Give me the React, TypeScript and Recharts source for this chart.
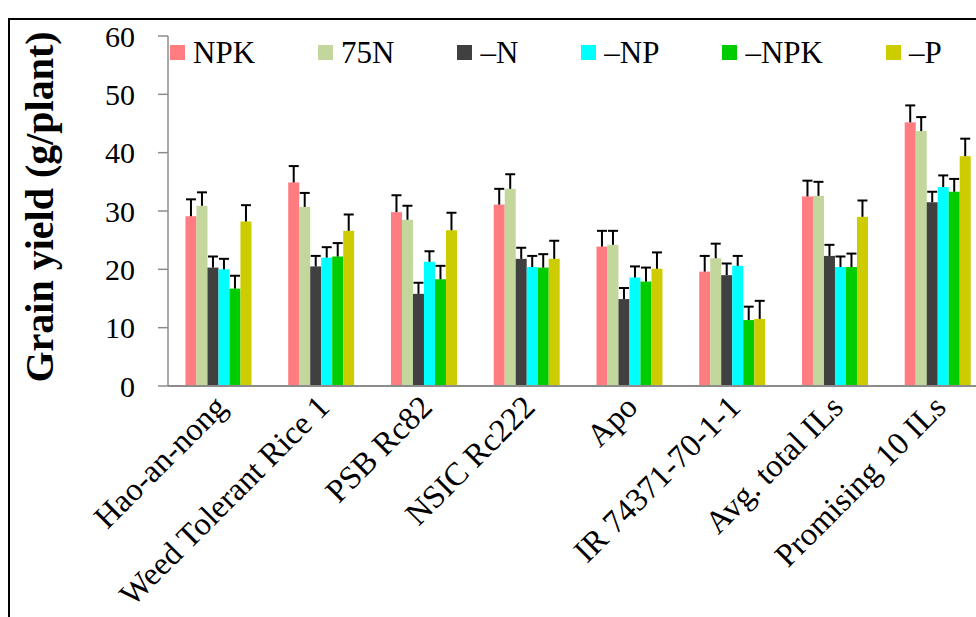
import React from 'react';
import { BarChart, Bar, XAxis, YAxis, Legend } from 'recharts';

const categories = [
  'Hao-an-nong',
  'Weed Tolerant Rice 1',
  'PSB Rc82',
  'NSIC Rc222',
  'Apo',
  'IR 74371-70-1-1',
  'Avg. total ILs',
  'Promising 10 ILs',
];

const npk = [29.1, 34.9, 29.8, 31.1, 23.9, 19.6, 32.5, 45.2];
const n75 = [30.9, 30.7, 28.5, 33.8, 24.2, 21.9, 32.6, 43.7];
const minusN = [20.3, 20.5, 15.8, 21.8, 14.9, 19.0, 22.3, 31.5];
const minusNP = [20.0, 22.0, 21.3, 20.4, 18.6, 20.6, 20.4, 34.1];
const minusNPK = [16.7, 22.2, 18.3, 20.3, 17.9, 11.3, 20.4, 33.3];
const minusP = [28.2, 26.6, 26.7, 21.8, 20.1, 11.5, 29.0, 39.4];

// upper error (standard error) per bar
const npkErr = [2.9, 2.8, 2.9, 2.7, 2.7, 2.7, 2.7, 2.9];
const n75Err = [2.3, 2.4, 2.4, 2.5, 2.4, 2.5, 2.4, 2.4];
const minusNErr = [1.9, 1.8, 1.9, 1.9, 1.9, 2.0, 1.9, 1.8];
const minusNPErr = [1.8, 1.8, 1.8, 1.9, 1.9, 1.7, 1.8, 2.0];
const minusNPKErr = [2.2, 2.3, 2.3, 2.3, 2.4, 2.3, 2.3, 2.2];
const minusPErr = [2.8, 2.8, 3.0, 3.1, 2.8, 3.1, 2.8, 3.0];

const yTicks = [0, 10, 20, 30, 40, 50, 60];

const series = [
  { key: 'npk', name: 'NPK', color: '#FF7C80', values: npk, errs: npkErr },
  { key: 'n75', name: '75N', color: '#C3D69B', values: n75, errs: n75Err },
  { key: 'minusN', name: '\u2013N', color: '#404040', values: minusN, errs: minusNErr },
  { key: 'minusNP', name: '\u2013NP', color: '#00FFFF', values: minusNP, errs: minusNPErr },
  { key: 'minusNPK', name: '\u2013NPK', color: '#00CC00', values: minusNPK, errs: minusNPKErr },
  { key: 'minusP', name: '\u2013P', color: '#CCCC00', values: minusP, errs: minusPErr },
];

const data = categories.map((name, i) => {
  const row: Record<string, any> = { name };
  series.forEach((s) => {
    row[s.key] = s.values[i];
    row[s.key + 'Err'] = s.errs[i];
  });
  return row;
});

const FONT = 'Liberation Serif';
const AXIS_GREY = '#8c8c8c';

// bar with an upper-only error whisker (T cap)
const barWithError = (key: string) => (props: any) => {
  const { x, y, width, height, fill, payload } = props;
  const v = payload[key];
  const pxPerUnit = v ? height / v : 0;
  const e = payload[key + 'Err'] * pxPerUnit;
  const cx = x + width / 2;
  return (
    <g>
      <rect x={x} y={y} width={width} height={height} fill={fill} />
      <line x1={cx} y1={y} x2={cx} y2={y - e} stroke="#000" strokeWidth={2} />
      <line x1={cx - 5} y1={y - e} x2={cx + 5} y2={y - e} stroke="#000" strokeWidth={2} />
    </g>
  );
};

const XTick = ({ x, y, payload }: any) => {
  const ax = x + 9;
  const ay = y + 23;
  return (
    <text
      x={ax}
      y={ay}
      textAnchor="end"
      transform={`rotate(-45, ${ax}, ${ay})`}
      fontFamily={FONT}
      fontSize={32.5}
      fill="#000"
    >
      {payload.value}
    </text>
  );
};

const YTitle = () => (
  <text
    x={53}
    y={207}
    textAnchor="middle"
    transform="rotate(-90, 53, 207)"
    fontFamily={FONT}
    fontWeight="bold"
    fontSize={40}
    fill="#000"
  >
    Grain yield (g/plant)
  </text>
);

const LegendContent = () => (
  <div style={{ display: 'flex', alignItems: 'center', whiteSpace: 'nowrap', fontFamily: FONT, fontSize: 31, lineHeight: '31px', color: '#000' }}>
    {series.map((s) => (
      <div key={s.key} style={{ display: 'flex', alignItems: 'center', marginRight: 63 }}>
        <span style={{ display: 'inline-block', width: 15, height: 15, background: s.color, marginRight: 8 }} />
        <span>{s.name}</span>
      </div>
    ))}
  </div>
);

export default function App() {
  return (
    <div style={{ position: 'absolute', left: 0, top: 0, width: 976, height: 617, overflow: 'hidden', background: '#fff' }}>
      <div
        style={{
          position: 'absolute',
          left: 8,
          top: 18,
          width: 1200,
          height: 800,
          borderTop: '2px solid #000',
          borderLeft: '2px solid #000',
        }}
      />
      <div style={{ position: 'absolute', left: 0, top: 0 }}>
        <BarChart
          width={990}
          height={617}
          data={data}
          margin={{ top: 36, right: 0, bottom: 0, left: 0 }}
          barCategoryGap="17%"
          barGap={0}
        >
          <XAxis
            dataKey="name"
            interval={0}
            height={231}
            tickLine={false}
            tickSize={0}
            tickMargin={0}
            axisLine={{ stroke: AXIS_GREY, strokeWidth: 2 }}
            tick={<XTick />}
          />
          <YAxis
            width={168}
            domain={[0, 60]}
            ticks={yTicks}
            interval={0}
            tickSize={10}
            tickMargin={23}
            axisLine={{ stroke: AXIS_GREY, strokeWidth: 1.5 }}
            tickLine={{ stroke: AXIS_GREY, strokeWidth: 1.5 }}
            tick={{ fill: '#000', fontSize: 30, fontFamily: FONT }}
            label={<YTitle />}
          />
          <Legend
            layout="horizontal"
            align="center"
            verticalAlign="middle"
            wrapperStyle={{ top: 37, left: 170, width: 'auto' }}
            content={<LegendContent />}
          />
          {series.map((s) => (
            <Bar
              key={s.key}
              dataKey={s.key}
              name={s.name}
              fill={s.color}
              isAnimationActive={false}
              shape={barWithError(s.key)}
            />
          ))}
        </BarChart>
      </div>
    </div>
  );
}
